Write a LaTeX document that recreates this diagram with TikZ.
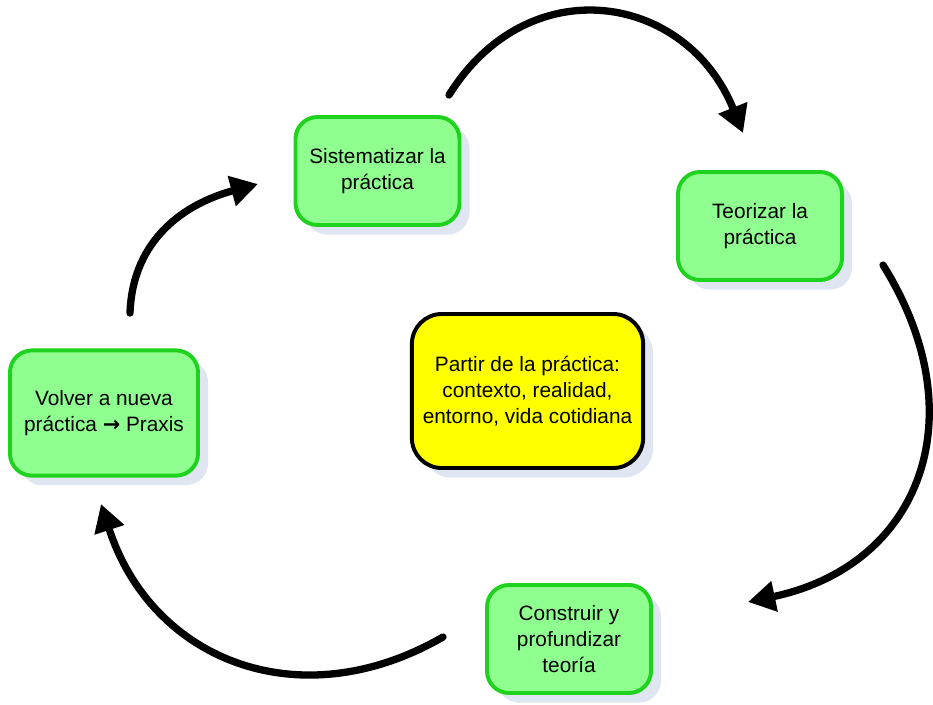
\documentclass[tikz,border=0pt]{standalone}
\usepackage{fontspec}
\setmainfont{Liberation Sans}
\newfontfamily\flechafont{DejaVu Sans}
\usetikzlibrary{arrows.meta,shadows}

\definecolor{verdeborde}{HTML}{1ED21E}
\definecolor{verdefondo}{HTML}{8FFF8F}
\definecolor{amarillo}{HTML}{FFFF00}
\definecolor{sombra}{HTML}{DFE5F1}

\begin{document}
\begin{tikzpicture}[
        x=0.025cm, y=-0.025cm,
        etapa/.style={draw=verdeborde, fill=verdefondo, line width=2.8pt,
          rounded corners=0.55cm, align=center, inner sep=2pt,
          font=\fontsize{14.8}{18.4}\selectfont,
          minimum width=4.1cm, minimum height=2.7cm,
          drop shadow={shadow xshift=0.25cm, shadow yshift=-0.24cm,
            fill=sombra, opacity=1}},
        centro/.style={etapa, draw=black, fill=amarillo,
          rounded corners=0.75cm, minimum width=5.78cm, minimum height=3.85cm},
        flecha/.style={-{Triangle[length=0.68cm, width=0.74cm]},
          line width=5.2pt, line cap=round}
      ]
        \useasboundingbox (0,0) rectangle (933,704);
        \node[etapa] (sist) at (377.5,171) {Sistematizar la\\práctica};
        \node[etapa] (teor) at (760,226) {Teorizar la\\práctica};
        \node[centro] (partir) at (527.5,391) {Partir de la práctica:\\contexto, realidad,\\entorno, vida cotidiana};
        \node[etapa, minimum width=4.7cm, minimum height=3.13cm] (volver) at (104,413) {Volver a nueva\\práctica {\flechafont\bfseries →} Praxis};
        \node[etapa] (constr) at (569,639) {Construir y\\profundizar\\teoría};
        % extremos de las flechas del ciclo
        \coordinate (a1) at (449,95);
        \coordinate (b1) at (743,133);
        \coordinate (a2) at (883,265);
        \coordinate (b2) at (748,602);
        \coordinate (a3) at (443,637);
        \coordinate (b3) at (101,504);
        \coordinate (a4) at (130,313);
        \coordinate (b4) at (258,184);
        \draw[flecha] (a1) to[out=58, in=112, looseness=1.3] (b1);
        \draw[flecha] (a2) to[out=-58, in=12, looseness=1.25] (b2);
        \draw[flecha] (a3) to[out=210, in=-72, looseness=1.15] (b3);
        \draw[flecha] (a4) to[out=88, in=195, looseness=1.05] (b4);
      \end{tikzpicture}
\end{document}
